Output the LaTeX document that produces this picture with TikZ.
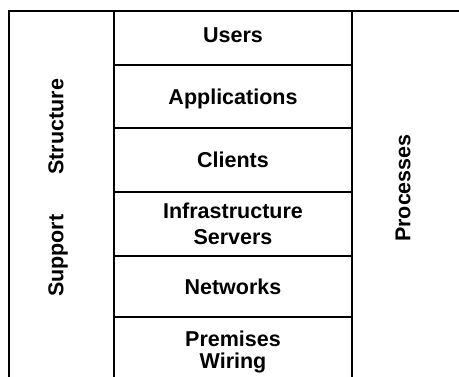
\documentclass[tikz,border=0pt]{standalone}
\usepackage{fontspec}
\setmainfont{Liberation Sans}
\begin{document}
\begin{tikzpicture}[x=1pt,y=-1pt,
  frame/.style={draw=black, line width=2.4pt},
  layer/.style={draw=black, line width=1.6pt, minimum width=238pt,
    inner sep=0pt, outer sep=0pt, anchor=north west, align=center,
    font=\bfseries\fontsize{21.5}{25}\selectfont},
  sidelabel/.style={rotate=90, inner sep=0pt,
    font=\bfseries\fontsize{21.5}{25}\selectfont}]
\useasboundingbox (0,0) rectangle (459,376);
\clip (0,0) rectangle (459,376);
% outer frame, open to the right and bottom
\draw[frame] (470,11) -- (9,11) -- (9,390);
% the stacked layers in the middle column
\node[layer, minimum height=54pt, text depth=6pt] (users) at (114,11) {Users};
\node[layer, minimum height=63pt, text height=20pt] (apps) at (users.south west) {Applications};
\node[layer, minimum height=64pt] (clients) at (apps.south west) {Clients};
\node[layer, minimum height=64pt] (infra) at (clients.south west) {Infrastructure\\[1pt]Servers};
\node[layer, minimum height=61pt] (nets) at (infra.south west) {Networks};
\node[layer, minimum height=69pt] (prem) at (nets.south west) {Premises\\[-3pt]Wiring};
% side labels
\node[sidelabel] (support) at (58,188) {Support\hspace{40pt}Structure};
\node[sidelabel] (proc) at (403,188) {Processes};
\end{tikzpicture}
\end{document}
